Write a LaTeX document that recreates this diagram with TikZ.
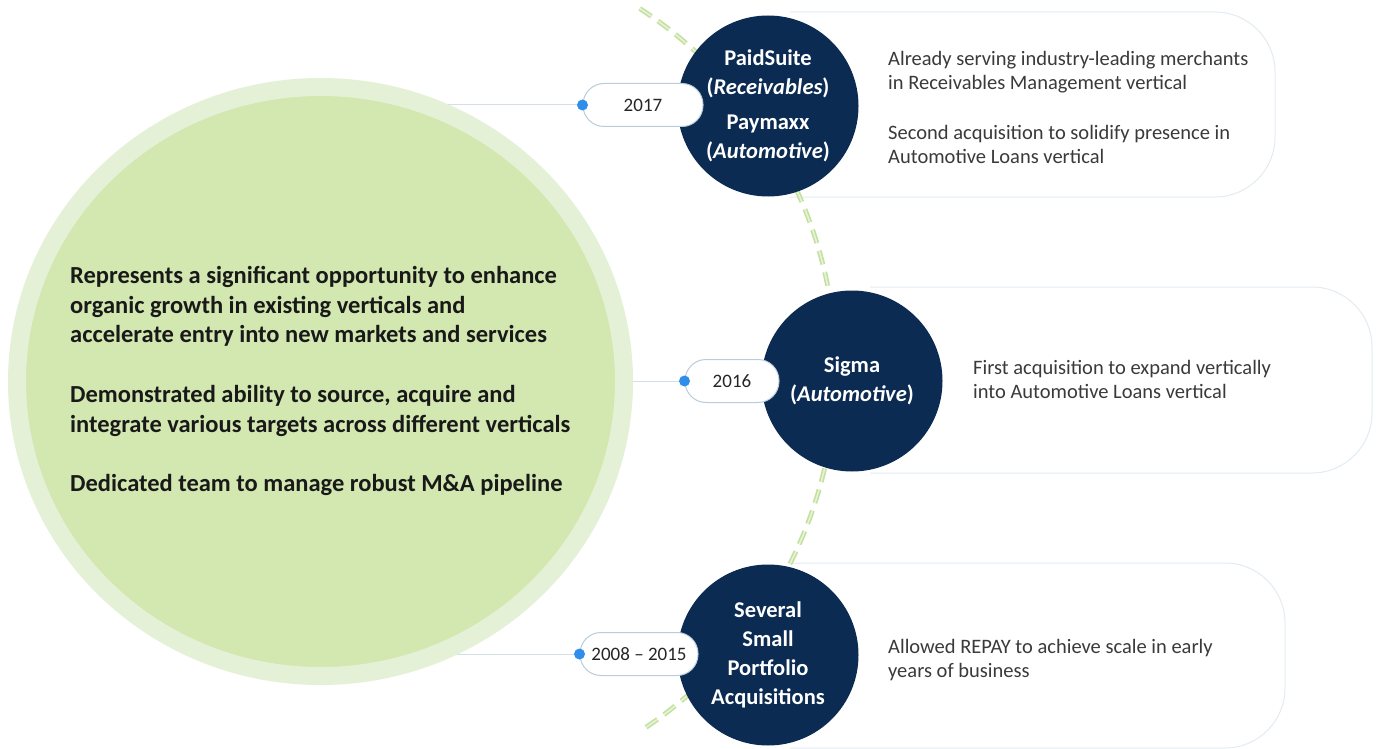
\documentclass[tikz,border=0pt]{standalone}
\usepackage{fontspec}
\setmainfont{Carlito}
\usepackage{xcolor}
\usepackage{tikz}
\usetikzlibrary{positioning, calc, shapes.geometric, backgrounds}

\definecolor{navy}{HTML}{0B2B52}
\definecolor{coreIn}{HTML}{D3E7B0}
\definecolor{coreRing}{HTML}{E5F1D6}
\definecolor{arcGreen}{HTML}{C3E09E}
\definecolor{arcLight}{HTML}{E6F3D8}
\definecolor{pillLine}{HTML}{B9CCDA}
\definecolor{boxLine}{HTML}{E3ECF2}
\definecolor{dotBlue}{HTML}{2E8EEA}
\definecolor{linkGrey}{HTML}{D3DEE6}
\definecolor{bodyText}{HTML}{3A3A3A}

\begin{document}
\begin{tikzpicture}[x=1pt,y=-1pt,
    core/.style={ellipse,fill=coreIn,draw=coreRing,line width=18pt,minimum width=607pt,minimum height=589pt,inner sep=0pt},
    coretext/.style={font=\fontsize{24.5}{29.7}\selectfont\bfseries,text=black!90,align=left,inner sep=0pt},
    acq/.style={circle,fill=navy,minimum size=181pt,inner sep=0pt,text=white,align=center,font=\fontsize{22.5}{29}\selectfont\bfseries},
    pill/.style={rectangle,rounded corners=21pt,draw=pillLine,line width=1pt,fill=white,minimum height=43pt,inner sep=0pt,font=\fontsize{19}{22}\selectfont,text=black!85},
    dot/.style={circle,fill=dotBlue,minimum size=11pt,inner sep=0pt},
    infobox/.style={draw=boxLine,line width=1pt,rounded corners=60pt},
    note/.style={font=\fontsize{20.5}{24}\selectfont,text=bodyText,align=left,inner sep=0pt,anchor=west},
    link/.style={draw=linkGrey,line width=1pt},
    trail/.style={draw=arcGreen,double=arcLight,double distance=1.6pt,line width=1.6pt,dash pattern=on 14pt off 8pt}]
    \useasboundingbox (0,0) rectangle (1382,749);
    \begin{scope}[on background layer]
        \fill[white] (0,0) rectangle (1382,749);
    \end{scope}

    % boxes behind the acquisitions
    \draw[infobox] (790,12) -- (1275,12) -- (1275,197) -- (790,197);
    \draw[infobox] (870,287) -- (1372,287) -- (1372,473) -- (870,473);
    \draw[infobox] (790,563) -- (1285,563) -- (1285,748) -- (790,748);

    % timeline
    \draw[trail] (405,370) ++(-57:431) arc[start angle=-57,end angle=56,radius=431];

    \node[core] (core) at (320.5,381.5) {};
    \node[coretext,anchor=west] (coreNote) at (70,381) {Represents a significant opportunity to enhance\\organic growth in existing verticals and\\accelerate entry into new markets and services\\[29.7pt]Demonstrated ability to source, acquire and\\integrate various targets across different verticals\\[29.7pt]Dedicated team to manage robust M\&A pipeline};

    % acquisitions
    \node[acq] (acq2017) at (768,106) {PaidSuite\\(\textit{Receivables})\\[6pt]Paymaxx\\(\textit{Automotive})};
    \node[acq] (acq2016) at (852,381) {Sigma\\(\textit{Automotive})};
    \node[acq] (acq2008) at (768,655) {Several\\Small\\Portfolio\\Acquisitions};

    % years
    \node[pill,minimum width=120pt] (y2017) at (643,105) {2017};
    \node[pill,minimum width=94pt] (y2016) at (732,381) {2016};
    \node[pill,minimum width=118pt] (y2008) at (639,654) {2008 -- 2015};
    \node[dot] (dot2017) at (y2017.west) {};
    \node[dot] (dot2016) at (y2016.west) {};
    \node[dot] (dot2008) at (y2008.west) {};

    \begin{scope}[on background layer]
        \draw[link] (core.center |- dot2017) -- (dot2017);
        \draw[link] (core.center |- dot2016) -- (dot2016);
        \draw[link] (core.center |- dot2008) -- (dot2008);
    \end{scope}

    \node[note] (note2017) at (888,107) {Already serving industry-leading merchants\\in Receivables Management vertical\\[26pt]Second acquisition to solidify presence in\\Automotive Loans vertical};
    \node[note] (note2016) at (973,379) {First acquisition to expand vertically\\into Automotive Loans vertical};
    \node[note] (note2008) at (888,660) {Allowed REPAY to achieve scale in early\\years of business};
\end{tikzpicture}
\end{document}
